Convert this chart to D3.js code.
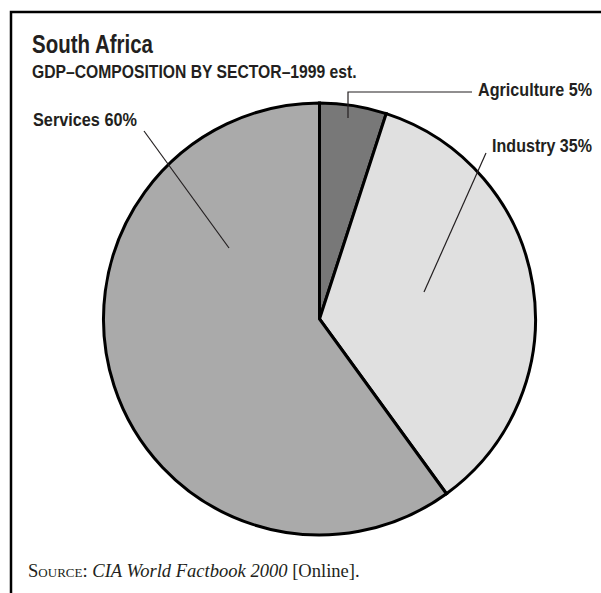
<!DOCTYPE html>
<html>
<head>
<meta charset="utf-8">
<script src="https://cdn.jsdelivr.net/npm/d3@7"></script>
<style>
  body { margin: 0; background: #fff; }
  .hd { font-family: "Liberation Sans Narrow", "Liberation Sans", sans-serif; font-weight: bold; fill: #231f20; }
  .src { font-family: "Liberation Serif", "DejaVu Serif", serif; fill: #231f20; }
</style>
</head>
<body>
<svg width="601" height="593"></svg>
<script>
var sectors = ["Agriculture", "Industry", "Services"];
var shares = [5, 35, 60];
var colors = ["#787878", "#e0e0e0", "#aaaaaa"];

var svg = d3.select("svg");
var cx = 319.5, cy = 319, radius = 216;

// squeeze a text horizontally to a given width (no condensed font installed)
function squeeze(sel, x, y, w) {
    var len = sel.node().getComputedTextLength();
    sel.attr("transform", "translate(" + x + "," + y + ") scale(" + (w / len) + ",1)");
}

// frame: top and left rules only
svg.append("path")
    .attr("d", "M11,593 V12 H601")
    .attr("fill", "none")
    .attr("stroke", "#000")
    .attr("stroke-width", 2.5);

var title = svg.append("text").attr("class", "hd")
    .style("font-size", "26px")
    .text("South Africa");
squeeze(title, 32, 53, 121);

var sub = svg.append("text").attr("class", "hd")
    .style("font-size", "18px")
    .text("GDP\u2013COMPOSITION BY SECTOR\u20131999 est.");
squeeze(sub, 32, 78, 325);

var pie = d3.pie().sort(null).value(function(d) { return d; });
var arc = d3.arc().innerRadius(0).outerRadius(radius);
var arcs = pie(shares);

var g = svg.append("g").attr("transform", "translate(" + cx + "," + cy + ")");
g.selectAll("path")
    .data(arcs)
    .enter().append("path")
    .attr("d", arc)
    .attr("fill", function(d, i) { return colors[i]; })
    .attr("stroke", "#000")
    .attr("stroke-width", 3)
    .attr("stroke-linejoin", "miter");

// leader lines + labels (layout only)
var labels = [
    { pts: [[348, 118], [348, 92], [472, 92]], x: 592, y: 96, w: 114, anchor: "end" },
    { pts: [[424, 292], [486, 153]], x: 592, y: 152, w: 100, anchor: "end" },
    { pts: [[229, 248], [144, 131]], x: 33, y: 126, w: 104, anchor: "start" }
];
labels.forEach(function(l, i) {
    svg.append("path")
        .attr("d", d3.line()(l.pts))
        .attr("fill", "none")
        .attr("stroke", "#231f20")
        .attr("stroke-width", 1.2);
    var t = svg.append("text").attr("class", "hd")
        .attr("text-anchor", l.anchor)
        .style("font-size", "18px")
        .text(sectors[i] + " " + shares[i] + "%");
    squeeze(t, l.x, l.y, l.w);
});

var src = svg.append("text").attr("class", "src")
    .style("font-size", "18.5px");
src.append("tspan").style("font-variant", "small-caps").text("Source:");
src.append("tspan").style("font-style", "italic").text(" CIA World Factbook 2000");
src.append("tspan").text(" [Online].");
squeeze(src, 28, 577, 332);
</script>
</body>
</html>
